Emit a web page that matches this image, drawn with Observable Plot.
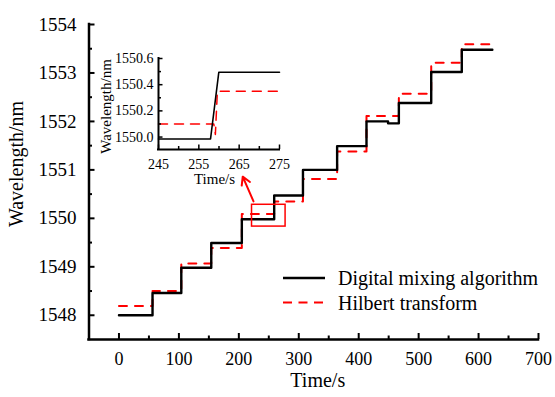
<!DOCTYPE html>
<html><head><meta charset="utf-8">
<script src="https://cdn.jsdelivr.net/npm/d3@7"></script>
<script src="https://cdn.jsdelivr.net/npm/@observablehq/plot@0.6"></script>
<style>
body{margin:0;background:#fff;}
#wrap{position:relative;width:555px;height:397px;font-family:"Liberation Serif","Times New Roman",serif;color:#000;}
#wrap > *{position:absolute;}
#wrap text{font-weight:normal;}
</style></head><body><div id="wrap"></div>
<script>
// ---- main chart data ----
const digitalTimes  = [0, 56, 104, 154, 205, 259, 307, 364, 413, 449, 467, 521, 572, 623];
const digitalValues = [1548.0, 1548.46, 1548.98, 1549.49, 1549.98, 1550.47, 1551.0, 1551.49, 1552.0, 1551.96, 1552.38, 1553.02, 1553.48, 1553.48];
const hilbertTimes  = [0, 56, 104, 154, 205, 259, 307, 364, 413, 467, 521, 572, 621];
const hilbertValues = [1548.19, 1548.5, 1549.07, 1549.39, 1550.09, 1550.35, 1550.81, 1551.38, 1552.11, 1552.57, 1553.21, 1553.59, 1553.59];
const xMajor = [0, 100, 200, 300, 400, 500, 600, 700];
const xMinor = [50, 150, 250, 350, 450, 550, 650];
const yMajor = [1548, 1549, 1550, 1551, 1552, 1553, 1554];
const yMinor = [1548.5, 1549.5, 1550.5, 1551.5, 1552.5, 1553.5];
const zoomBox = [{x1: 222, x2: 278, y1: 1549.83, y2: 1550.28}];
const zoomArrow = [{x1: 224.5, y1: 1550.35, x2: 206.5, y2: 1550.86}];
const seriesNames = ["Digital mixing algorithm", "Hilbert transform"];

// ---- inset data ----
const insetDigitalTimes  = [245, 257.9, 259.95, 275];
const insetDigitalValues = [1549.985, 1549.985, 1550.495, 1550.495];
const insetHilbertTimes  = [245, 258.7, 259.1, 259.6, 275];
const insetHilbertValues = [1550.1, 1550.1, 1550.02, 1550.35, 1550.35];
const insetXMajor = [245, 255, 265, 275];
const insetXMinor = [250, 260, 270];
const insetYMajor = [1550.0, 1550.2, 1550.4, 1550.6];
const insetYMinor = [1550.1, 1550.3, 1550.5];

const digital = digitalTimes.map((t, i) => ({t, v: digitalValues[i]}));
const hilbert = hilbertTimes.map((t, i) => ({t, v: hilbertValues[i]}));
const insetDigital = insetDigitalTimes.map((t, i) => ({t, v: insetDigitalValues[i]}));
const insetHilbert = insetHilbertTimes.map((t, i) => ({t, v: insetHilbertValues[i]}));

const FONT = "'Liberation Serif','Times New Roman',serif";
const W = 555, H = 397, mL = 88.5, mR = 17, mT = 24, mB = 58;
const pw = W - mL - mR, ph = H - mT - mB;

const main = Plot.plot({
  width: W, height: H,
  marginLeft: mL, marginRight: mR, marginTop: mT, marginBottom: mB,
  style: {fontFamily: FONT, fontSize: "18px", color: "#000", background: "transparent", overflow: "visible"},
  x: {domain: [-50, 700]},
  y: {domain: [1547.5, 1554]},
  marks: [
    Plot.line(hilbert, {x: "t", y: "v", curve: "step-after", stroke: "#ff0000", strokeWidth: 2, strokeDasharray: "8,8"}),
    Plot.line(digital, {x: "t", y: "v", curve: "step-after", stroke: "#000", strokeWidth: 2.4}),
    Plot.rect(zoomBox, {x1: "x1", x2: "x2", y1: "y1", y2: "y2", stroke: "#ff0000", fill: "none", strokeWidth: 1.5}),
    Plot.arrow(zoomArrow, {x1: "x1", y1: "y1", x2: "x2", y2: "y2", stroke: "#ff0000", strokeWidth: 2, headLength: 9}),
    Plot.tickX(xMajor, {x: d => d, insetTop: ph - 6, strokeWidth: 2}),
    Plot.tickX(xMinor, {x: d => d, insetTop: ph - 3.5, strokeWidth: 2}),
    Plot.tickY(yMajor, {y: d => d, insetRight: pw - 6, strokeWidth: 2}),
    Plot.tickY(yMinor, {y: d => d, insetRight: pw - 3.5, strokeWidth: 2}),
    Plot.ruleX([-50], {strokeWidth: 2.5, strokeLinecap: "square"}),
    Plot.ruleY([1547.5], {strokeWidth: 2.5, strokeLinecap: "square"}),
    Plot.axisX(xMajor, {tickSize: 0, tickPadding: 13, fontSize: 18, label: null}),
    Plot.axisY(yMajor, {tickSize: 0, tickPadding: 12.5, fontSize: 19, label: null, tickFormat: d => String(d)}),
    Plot.text(["Time/s"], {text: d => d, frameAnchor: "bottom", textAnchor: "middle", dy: 47, dx: 4, fontSize: 20, fontWeight: "normal"}),
    Plot.text(["Wavelength/nm"], {text: d => d, frameAnchor: "left", textAnchor: "middle", rotate: -90, dx: -72.5, dy: -18, fontSize: 20, fontWeight: "normal"})
  ]
});
main.style.left = "0px"; main.style.top = "0px";
document.getElementById("wrap").appendChild(main);

// ---- inset ----
const iW = 190, iH = 160, iL = 58, iR = 11, iT = 18, iB = 51;
const ipw = iW - iL - iR, iph = iH - iT - iB;
const inset = Plot.plot({
  width: iW, height: iH,
  marginLeft: iL, marginRight: iR, marginTop: iT, marginBottom: iB,
  style: {fontFamily: FONT, fontSize: "14px", color: "#000", background: "transparent", overflow: "visible"},
  x: {domain: [245, 275]},
  y: {domain: [1549.905, 1550.6]},
  marks: [
    Plot.line(insetHilbert, {x: "t", y: "v", stroke: "#ff0000", strokeWidth: 1.5, strokeDasharray: "9,7"}),
    Plot.line(insetDigital, {x: "t", y: "v", stroke: "#000", strokeWidth: 1.6}),
    Plot.tickX(insetXMajor, {x: d => d, insetTop: iph - 4.5, strokeWidth: 1.5}),
    Plot.tickX(insetXMinor, {x: d => d, insetTop: iph - 3, strokeWidth: 1.5}),
    Plot.tickY(insetYMajor, {y: d => d, insetRight: ipw - 4.5, strokeWidth: 1.5}),
    Plot.tickY(insetYMinor, {y: d => d, insetRight: ipw - 3, strokeWidth: 1.5}),
    Plot.ruleX([245], {strokeWidth: 2, strokeLinecap: "square"}),
    Plot.ruleY([1549.905], {strokeWidth: 2, strokeLinecap: "square"}),
    Plot.axisX(insetXMajor, {tickSize: 0, tickPadding: 10, fontSize: 14, label: null}),
    Plot.axisY(insetYMajor, {tickSize: 0, tickPadding: 5, fontSize: 14, label: null, tickFormat: d => d.toFixed(1)}),
    Plot.text(["Time/s"], {text: d => d, frameAnchor: "bottom", textAnchor: "middle", dy: 34, dx: -4.5, fontSize: 15, fontWeight: "normal"}),
    Plot.text(["Wavelength/nm"], {text: d => d, frameAnchor: "left", textAnchor: "middle", rotate: -90, dx: -52, dy: 2.5, fontSize: 15, fontWeight: "normal"})
  ]
});
inset.style.left = "100px"; inset.style.top = "40px";
document.getElementById("wrap").appendChild(inset);

// ---- legend (inside plot area) ----
const NS = "http://www.w3.org/2000/svg";
const leg = document.createElementNS(NS, "svg");
leg.setAttribute("width", 270); leg.setAttribute("height", 50);
leg.style.left = "280px"; leg.style.top = "265px"; leg.style.overflow = "visible";
const legColors = ["#000", "#ff0000"], legDash = [null, "9,6.5"], legW = [2.4, 2];
seriesNames.forEach((name, i) => {
  const y = 13 + i * 24.5;
  const ln = document.createElementNS(NS, "line");
  ln.setAttribute("x1", 3); ln.setAttribute("x2", 45);
  ln.setAttribute("y1", y); ln.setAttribute("y2", y);
  ln.setAttribute("stroke", legColors[i]); ln.setAttribute("stroke-width", legW[i]);
  if (legDash[i]) ln.setAttribute("stroke-dasharray", legDash[i]);
  leg.appendChild(ln);
  const tx = document.createElementNS(NS, "text");
  tx.setAttribute("x", 58); tx.setAttribute("y", y); tx.setAttribute("dy", "0.35em");
  tx.setAttribute("font-family", FONT); tx.setAttribute("font-size", 20);
  tx.textContent = name;
  leg.appendChild(tx);
});
document.getElementById("wrap").appendChild(leg);
</script></body></html>
